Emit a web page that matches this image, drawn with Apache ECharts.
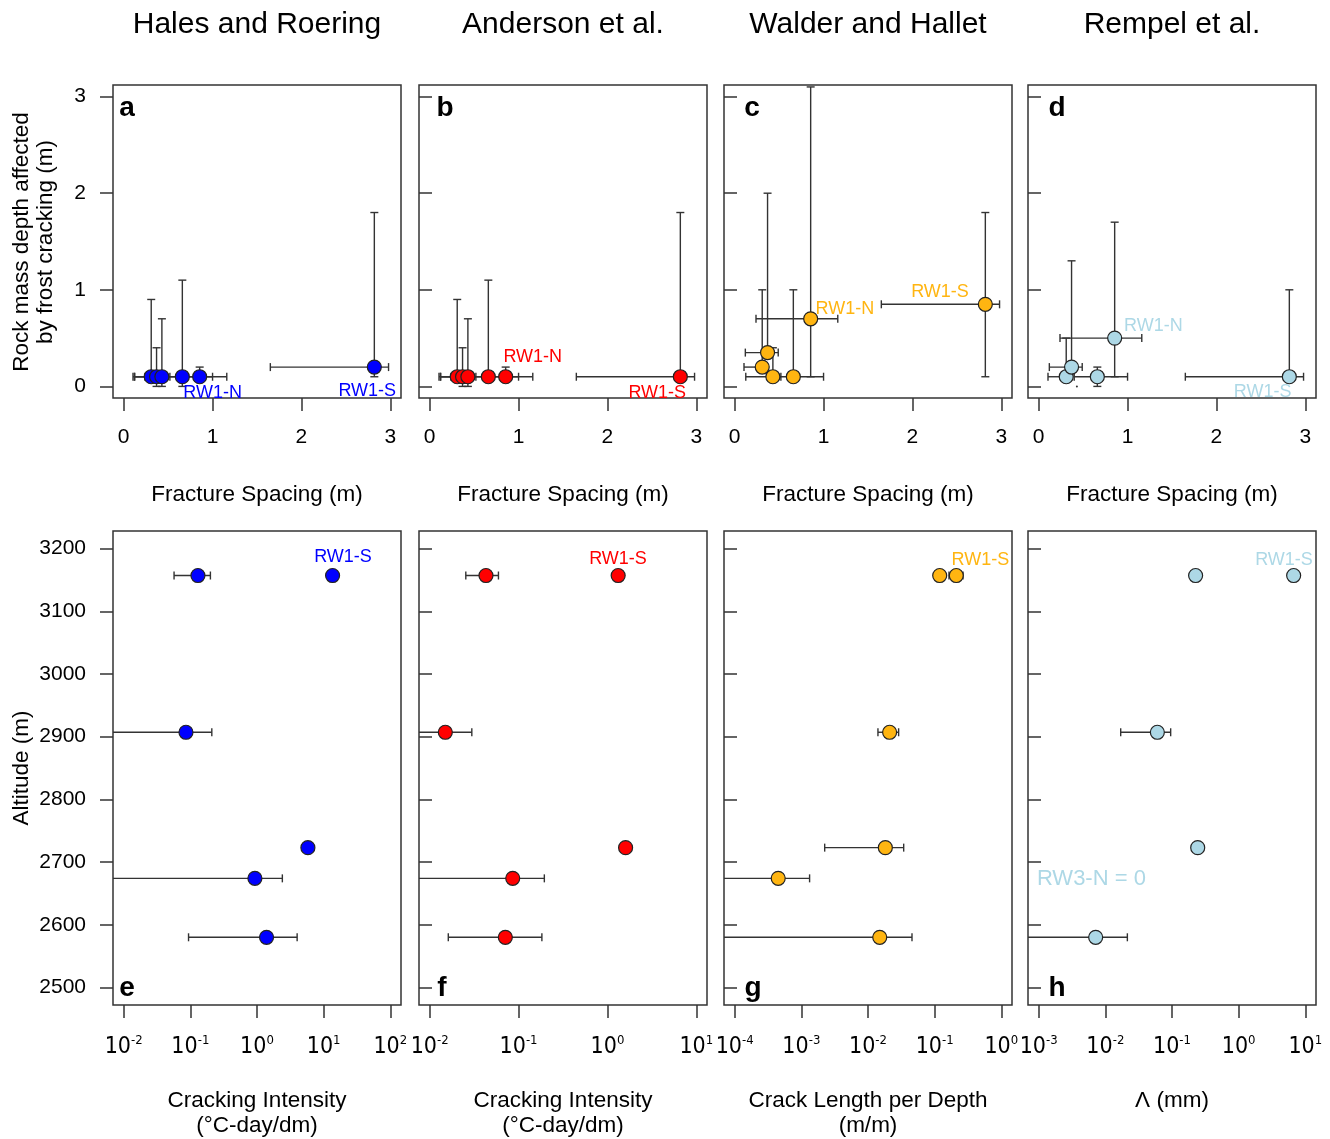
<!DOCTYPE html>
<html>
<head>
<meta charset="utf-8">
<title>Frost cracking models</title>
<script src="https://cdn.jsdelivr.net/npm/echarts@6/dist/echarts.min.js"></script>
<style>
html, body { margin: 0; padding: 0; background: #fff; }
#chart { width: 1330px; height: 1139px; }
</style>
</head>
<body>
<div id="chart"></div>
<script>
// ---------- data ----------
const modelNames = ['Hales and Roering', 'Anderson et al.', 'Walder and Hallet', 'Rempel et al.'];
const panelLetters = ['a', 'b', 'c', 'd', 'e', 'f', 'g', 'h'];

// top row: fracture spacing (m) vs depth affected (m)
const spacing   = [0.31, 0.37, 0.43, 0.66, 0.855, 2.82];
const spacingLo = [0.105, 0.12, 0.125, 0.40, 0.24, 1.65];
const spacingHi = [0.33, 0.49, 0.52, 1.0, 1.16, 2.98];

const depthHales   = [0.1, 0.1, 0.1, 0.1, 0.1, 0.2];
const depthHalesLo = [0.1, 0.0, 0.0, 0.0, 0.1, 0.1];
const depthHalesHi = [0.9, 0.4, 0.7, 1.1, 0.2, 1.8];

const depthAnderson   = [0.1, 0.1, 0.1, 0.1, 0.1, 0.1];
const depthAndersonLo = [0.1, 0.0, 0.0, 0.1, 0.1, 0.1];
const depthAndersonHi = [0.9, 0.4, 0.7, 1.1, 0.2, 1.8];

const depthWalder   = [0.2, 0.35, 0.1, 0.1, 0.7, 0.85];
const depthWalderLo = [0.2, 0.35, 0.1, 0.1, 0.1, 0.1];
const depthWalderHi = [1.0, 2.0, 0.4, 1.0, 3.1, 1.8];

const depthRempel   = [0.1, 0.2, 0, 0.1, 0.5, 0.1];
const depthRempelLo = [0.1, 0.2, 0, 0.0, 0.1, 0.1];
const depthRempelHi = [0.5, 1.3, 0, 0.2, 1.7, 1.0];

// bottom row: altitude (m) vs model output (log axes); 0 = bar runs off the axis
const altitude = [3157, 3157, 2907, 2723, 2674, 2580];

const intensityHales   = [0.13, 13.6, 0.086, 5.8, 0.93, 1.39];
const intensityHalesLo = [0.057, null, 0, null, 0, 0.094];
const intensityHalesHi = [0.20, null, 0.21, null, 2.4, 4.0];

const intensityAnderson   = [0.043, 1.32, 0.015, 1.6, 0.086, 0.071];
const intensityAndersonLo = [0.0255, null, 0, null, 0, 0.0162];
const intensityAndersonHi = [0.0594, null, 0.0298, null, 0.195, 0.183];

const crackLength   = [0.119, 0.211, 0.0211, 0.0182, 0.00045, 0.015];
const crackLengthLo = [null, 0.164, 0.0141, 0.00224, 0, 0];
const crackLengthHi = [null, 0.266, 0.0288, 0.0343, 0.00133, 0.0457];

const lambdaRempel   = [0.226, 6.68, 0.0603, 0.243, null, 0.00716];
const lambdaRempelLo = [null, null, 0.017, null, null, 0];
const lambdaRempelHi = [null, null, 0.0955, null, null, 0.0214];

// tick values
const spacingTicks = [0, 1, 2, 3];
const depthTicks = [0, 1, 2, 3];
const altitudeTicks = [2500, 2600, 2700, 2800, 2900, 3000, 3100, 3200];
const expHales = [-2, -1, 0, 1, 2];
const expAnderson = [-2, -1, 0, 1];
const expWalder = [-4, -3, -2, -1, 0];
const expRempel = [-3, -2, -1, 0, 1];

// ---------- layout / style ----------
const colLeft = [113, 419, 724, 1028];
const boxW = 288;
const rowTop = [85, 531];
const rowH = [313, 474];
const ink = '#333';
const sans = "'Liberation Sans', Arial, sans-serif";
const narrow = "'Liberation Sans Narrow', 'DejaVu Sans Condensed', sans-serif";
const cap = 4;

const blue = '#0000ff', red = '#ff0000', orange = '#ffb511', light = '#add8e6';

const panels = [
  { col: 0, row: 0, color: blue, x: spacing, xLo: spacingLo, xHi: spacingHi,
    y: depthHales, yLo: depthHalesLo, yHi: depthHalesHi, xRange: [-0.12, 3.12], xTicks: spacingTicks,
    notes: [{ t: 'RW1-N', x: 1.0, y: -0.07 }, { t: 'RW1-S', x: 2.74, y: -0.05 }] },
  { col: 1, row: 0, color: red, x: spacing, xLo: spacingLo, xHi: spacingHi,
    y: depthAnderson, yLo: depthAndersonLo, yHi: depthAndersonHi, xRange: [-0.12, 3.12], xTicks: spacingTicks,
    notes: [{ t: 'RW1-N', x: 1.16, y: 0.30 }, { t: 'RW1-S', x: 2.56, y: -0.07 }] },
  { col: 2, row: 0, color: orange, x: spacing, xLo: spacingLo, xHi: spacingHi,
    y: depthWalder, yLo: depthWalderLo, yHi: depthWalderHi, xRange: [-0.12, 3.12], xTicks: spacingTicks,
    notes: [{ t: 'RW1-N', x: 1.24, y: 0.80 }, { t: 'RW1-S', x: 2.31, y: 0.98 }] },
  { col: 3, row: 0, color: light, x: spacing, xLo: spacingLo, xHi: spacingHi,
    y: depthRempel, yLo: depthRempelLo, yHi: depthRempelHi, xRange: [-0.12, 3.12], xTicks: spacingTicks,
    notes: [{ t: 'RW1-N', x: 1.29, y: 0.62 }, { t: 'RW1-S', x: 2.52, y: -0.06 }] },
  { col: 0, row: 1, color: blue, log: true, x: intensityHales, xLo: intensityHalesLo, xHi: intensityHalesHi,
    y: altitude, xRange: [-2.16, 2.16], xTicks: expHales,
    notes: [{ t: 'RW1-S', x: 19.5, y: 3186 }] },
  { col: 1, row: 1, color: red, log: true, x: intensityAnderson, xLo: intensityAndersonLo, xHi: intensityAndersonHi,
    y: altitude, xRange: [-2.12, 1.12], xTicks: expAnderson,
    notes: [{ t: 'RW1-S', x: 1.315, y: 3183 }] },
  { col: 2, row: 1, color: orange, log: true, x: crackLength, xLo: crackLengthLo, xHi: crackLengthHi,
    y: altitude, xRange: [-4.16, 0.16], xTicks: expWalder,
    notes: [{ t: 'RW1-S', x: 0.486, y: 3182 }] },
  { col: 3, row: 1, color: light, log: true, x: lambdaRempel, xLo: lambdaRempelLo, xHi: lambdaRempelHi,
    y: altitude, xRange: [-3.16, 1.16], xTicks: expRempel,
    notes: [{ t: 'RW1-S', x: 4.79, y: 3182 }, { t: 'RW3-N = 0', x: 0.00094, y: 2673, align: 'left', size: 22 }] }
];

function tx(p, v) {
  if (v == null) return null;
  if (!p.log) return v;
  return v > 0 ? Math.log10(v) : -Infinity;
}

const grids = [], xAxes = [], yAxes = [], series = [];

panels.forEach(function (p, k) {
  grids.push({
    left: colLeft[p.col], top: rowTop[p.row], width: boxW, height: rowH[p.row],
    show: true, borderColor: ink, borderWidth: 1.5, backgroundColor: 'transparent'
  });

  xAxes.push({
    type: 'value', gridIndex: k, min: p.xRange[0], max: p.xRange[1], position: 'bottom',
    axisLine: { show: false, onZero: false }, splitLine: { show: false },
    axisTick: { show: true, length: 13, customValues: p.xTicks, lineStyle: { color: ink, width: 1.5 } },
    axisLabel: p.log ? {
      customValues: p.xTicks, margin: 29,
      formatter: function (v) { return '{b|10}{s|' + Math.round(v) + '}'; },
      rich: {
        b: { fontSize: 23, fontFamily: narrow, color: '#000', lineHeight: 26 },
        s: { fontSize: 13, fontFamily: narrow, color: '#000', lineHeight: 14, verticalAlign: 'top' }
      }
    } : {
      customValues: p.xTicks, margin: 29, fontSize: 21, fontFamily: sans, color: '#000'
    }
  });

  const firstCol = p.col === 0;
  const yr = p.row === 0 ? [-0.12, 3.12] : [2472, 3228];
  const yt = p.row === 0 ? depthTicks : altitudeTicks;
  yAxes.push({
    type: 'value', gridIndex: k, min: yr[0], max: yr[1], position: 'left',
    axisLine: { show: false, onZero: false }, splitLine: { show: false },
    axisTick: { show: true, inside: !firstCol, length: 13, customValues: yt, lineStyle: { color: ink, width: 1.5 } },
    axisLabel: { show: firstCol, customValues: yt, margin: 27, fontSize: 21, fontFamily: sans, color: '#000',
      formatter: function (v) { return String(v); } }
  });

  const idx = [];
  p.x.forEach(function (v, i) { if (v != null && p.y[i] != null) idx.push(i); });

  // error bars
  series.push({
    type: 'custom', xAxisIndex: k, yAxisIndex: k, coordinateSystem: 'cartesian2d', silent: true, z: 2,
    data: idx.map(function (i) { return [tx(p, p.x[i]), p.y[i]]; }),
    renderItem: function (params, api) {
      const i = idx[params.dataIndex];
      const kids = [];
      const line = function (a, b) {
        kids.push({ type: 'line', shape: { x1: a[0], y1: a[1], x2: b[0], y2: b[1] },
          style: { stroke: ink, lineWidth: 1.4 } });
      };
      const x = tx(p, p.x[i]), y = p.y[i];
      if (p.row === 0 && y === 0) return { type: 'group', children: [] };
      if (p.xLo && p.xLo[i] != null) {
        let lo = tx(p, p.xLo[i]);
        const hi = tx(p, p.xHi[i]);
        const open = lo < p.xRange[0];
        if (open) lo = p.xRange[0];
        const a = api.coord([lo, y]), b = api.coord([hi, y]);
        line(a, b);
        if (!open) line([a[0], a[1] - cap], [a[0], a[1] + cap]);
        line([b[0], b[1] - cap], [b[0], b[1] + cap]);
      }
      if (p.yLo && p.yLo[i] != null) {
        const a = api.coord([x, p.yLo[i]]), b = api.coord([x, p.yHi[i]]);
        line(a, b);
        line([a[0] - cap, a[1]], [a[0] + cap, a[1]]);
        line([b[0] - cap, b[1]], [b[0] + cap, b[1]]);
      }
      return { type: 'group', children: kids };
    }
  });

  // points
  series.push({
    type: 'scatter', xAxisIndex: k, yAxisIndex: k, silent: true, z: 3,
    data: idx.map(function (i) {
      const tiny = p.row === 0 && p.y[i] === 0;
      return {
        value: [tx(p, p.x[i]), p.y[i]],
        symbolSize: tiny ? 2 : 14,
        itemStyle: tiny ? { color: ink, borderWidth: 0, opacity: 1 }
                        : { color: p.color, borderColor: '#222', borderWidth: 1.2, opacity: 1 }
      };
    })
  });

  // site labels
  series.push({
    type: 'custom', xAxisIndex: k, yAxisIndex: k, coordinateSystem: 'cartesian2d', silent: true, z: 4,
    data: p.notes.map(function (n) { return [tx(p, n.x), n.y]; }),
    renderItem: function (params, api) {
      const n = p.notes[params.dataIndex];
      const c = api.coord([api.value(0), api.value(1)]);
      return { type: 'text', x: c[0], y: c[1],
        style: { text: n.t, fill: p.color, fontSize: n.size || 18, fontFamily: sans,
          align: n.align || 'center', verticalAlign: 'middle' } };
    }
  });
});

// ---------- text ----------
const graphics = [];
const txt = function (text, x, y, size, extra) {
  graphics.push(Object.assign({ type: 'text', x: x, y: y, silent: true,
    style: { text: text, fontSize: size, fontFamily: sans, fill: '#000', align: 'center', verticalAlign: 'middle' } },
    extra || {}));
  return graphics[graphics.length - 1];
};

modelNames.forEach(function (name, c) {
  const cx = colLeft[c] + boxW / 2;
  txt(name, cx, 25, 30);
  txt('Fracture Spacing (m)', cx, 495, 22.5);
});

const bottomTitles = [
  ['Cracking Intensity', '(°C-day/dm)'],
  ['Cracking Intensity', '(°C-day/dm)'],
  ['Crack Length per Depth', '(m/m)'],
  ['Λ (mm)']
];
bottomTitles.forEach(function (lines, c) {
  const cx = colLeft[c] + boxW / 2;
  lines.forEach(function (l, j) { txt(l, cx, 1101 + j * 25, 22.5); });
});

txt('Rock mass depth affected\nby frost cracking (m)', 34, 242, 22.5,
  { rotation: Math.PI / 2 }).style.lineHeight = 24;
txt('Altitude (m)', 22, 768, 22.5, { rotation: Math.PI / 2 });

const letterPos = [[127, 108], [445, 108], [752, 108], [1057, 108],
                   [127, 988], [442, 988], [753, 988], [1057, 988]];
panelLetters.forEach(function (l, k) {
  txt(l, letterPos[k][0], letterPos[k][1], 28).style.fontWeight = 'bold';
});

const chart = echarts.init(document.getElementById('chart'));
chart.setOption({
  animation: false,
  backgroundColor: '#fff',
  textStyle: { fontFamily: sans },
  grid: grids,
  xAxis: xAxes,
  yAxis: yAxes,
  series: series,
  graphic: graphics
});
</script>
</body>
</html>
